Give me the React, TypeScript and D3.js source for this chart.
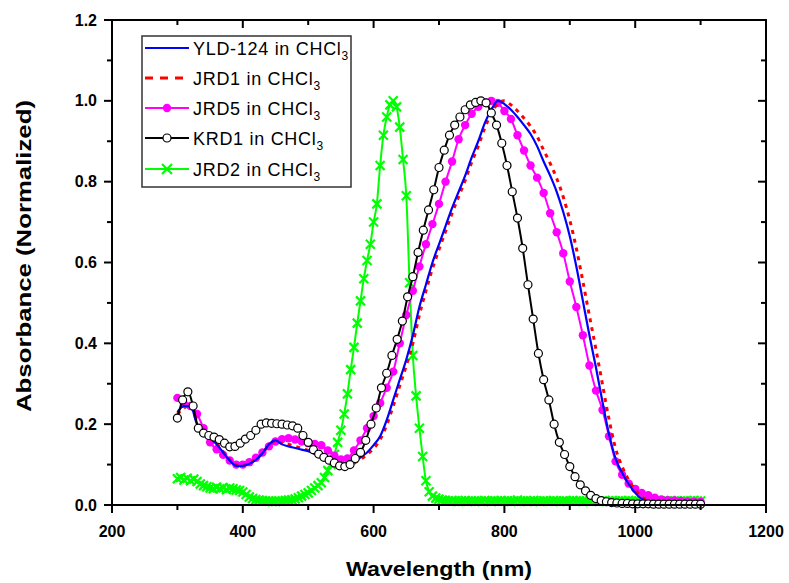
import React from 'react';
import * as d3 from 'd3';

const xMajorTicks = [200, 400, 600, 800, 1000, 1200];
const xMinorTicks = [300, 500, 700, 900, 1100];
const yMajorTicks = [0, 0.2, 0.4, 0.6, 0.8, 1.0, 1.2];
const yMinorTicks = [0.1, 0.3, 0.5, 0.7, 0.9, 1.1];

const legendNames = ['YLD-124 in CHCl', 'JRD1 in CHCl', 'JRD5 in CHCl', 'KRD1 in CHCl', 'JRD2 in CHCl'];

// wavelength grids (nm)
const wl10 = d3.range(300, 1101, 10);
const wl8 = d3.range(300, 1101, 8);
const wl5 = d3.range(300, 1101, 5);

const yld124 = [
  0.230, 0.245, 0.245, 0.200, 0.178, 0.165, 0.150, 0.130, 0.110, 0.097,
  0.097, 0.102, 0.112, 0.128, 0.150, 0.160, 0.150, 0.145, 0.141, 0.137,
  0.133, 0.126, 0.118, 0.107, 0.099, 0.095, 0.097, 0.106, 0.118, 0.130,
  0.148, 0.170, 0.210, 0.260, 0.310, 0.360, 0.420, 0.490, 0.545, 0.600,
  0.645, 0.690, 0.735, 0.775, 0.815, 0.860, 0.900, 0.945, 0.978, 1.000,
  0.992, 0.978, 0.960, 0.940, 0.918, 0.888, 0.850, 0.815, 0.775, 0.725,
  0.665, 0.590, 0.505, 0.420, 0.340, 0.255, 0.175, 0.115, 0.080, 0.052,
  0.030, 0.015, 0.010, 0.008, 0.006, 0.005, 0.004, 0.004, 0.003, 0.003,
  0.003,
];

const jrd1 = [
  0.225, 0.240, 0.245, 0.205, 0.180, 0.165, 0.152, 0.132, 0.112, 0.099,
  0.098, 0.103, 0.113, 0.128, 0.148, 0.158, 0.152, 0.150, 0.145, 0.140,
  0.135, 0.128, 0.120, 0.110, 0.100, 0.095, 0.096, 0.103, 0.113, 0.125,
  0.140, 0.162, 0.198, 0.245, 0.295, 0.345, 0.400, 0.470, 0.530, 0.585,
  0.632, 0.677, 0.722, 0.763, 0.803, 0.848, 0.888, 0.933, 0.968, 0.993,
  1.000, 0.990, 0.975, 0.957, 0.937, 0.912, 0.878, 0.845, 0.808, 0.762,
  0.705, 0.635, 0.553, 0.468, 0.385, 0.298, 0.212, 0.140, 0.095, 0.062,
  0.037, 0.020, 0.012, 0.009, 0.007, 0.006, 0.005, 0.005, 0.004, 0.004,
  0.004,
];

const jrd5 = [
  0.265, 0.250, 0.245, 0.225, 0.190, 0.155, 0.138, 0.124, 0.110, 0.100,
  0.100, 0.106, 0.117, 0.130, 0.145, 0.157, 0.163, 0.165, 0.162, 0.157,
  0.153, 0.151, 0.148, 0.135, 0.122, 0.113, 0.115, 0.135, 0.160, 0.190,
  0.220, 0.252, 0.290, 0.330, 0.400, 0.470, 0.530, 0.590, 0.645, 0.695,
  0.745, 0.800, 0.850, 0.905, 0.940, 0.968, 0.985, 0.996, 1.000, 0.995,
  0.975, 0.955, 0.915, 0.877, 0.840, 0.810, 0.772, 0.722, 0.675, 0.623,
  0.553, 0.490, 0.420, 0.345, 0.283, 0.235, 0.170, 0.108, 0.075, 0.053,
  0.040, 0.030, 0.024, 0.018, 0.014, 0.012, 0.011, 0.010, 0.009, 0.008,
  0.008,
];

const krd1 = [
  0.215, 0.260, 0.280, 0.245, 0.190, 0.178, 0.172, 0.168, 0.162, 0.153,
  0.144, 0.145, 0.153, 0.163, 0.172, 0.185, 0.200, 0.203, 0.202, 0.201,
  0.200, 0.198, 0.196, 0.190, 0.172, 0.155, 0.137, 0.126, 0.118, 0.111,
  0.104, 0.097, 0.095, 0.100, 0.115, 0.130, 0.160, 0.200, 0.240, 0.290,
  0.326, 0.370, 0.410, 0.455, 0.515, 0.565, 0.625, 0.680, 0.730, 0.780,
  0.835, 0.878, 0.915, 0.940, 0.960, 0.978, 0.990, 0.996, 1.000, 0.995,
  0.970, 0.940, 0.895, 0.840, 0.775, 0.710, 0.635, 0.545, 0.460, 0.375,
  0.310, 0.260, 0.200, 0.155, 0.125, 0.095, 0.070, 0.050, 0.035, 0.024,
  0.016, 0.011, 0.008, 0.006, 0.005, 0.004, 0.004, 0.003, 0.003, 0.003,
  0.003, 0.002, 0.002, 0.002, 0.002, 0.002, 0.002, 0.002, 0.002, 0.002,
  0.002,
];

const jrd2 = [
  0.065, 0.068, 0.062, 0.066, 0.060, 0.064, 0.058, 0.052, 0.048, 0.045,
  0.042, 0.040, 0.044, 0.040, 0.043, 0.038, 0.042, 0.040, 0.037, 0.036,
  0.032, 0.026, 0.020, 0.016, 0.013, 0.012, 0.011, 0.010, 0.010, 0.009,
  0.009, 0.010, 0.010, 0.011, 0.012, 0.013, 0.015, 0.018, 0.022, 0.026,
  0.030, 0.036, 0.042, 0.048, 0.055, 0.068, 0.085, 0.100, 0.125, 0.155,
  0.185, 0.225, 0.275, 0.335, 0.390, 0.450, 0.505, 0.560, 0.605, 0.645,
  0.700, 0.745, 0.840, 0.915, 0.960, 0.990, 1.000, 0.985, 0.935, 0.855,
  0.765, 0.550, 0.370, 0.270, 0.190, 0.120, 0.060, 0.033, 0.022, 0.017,
  0.014, 0.012, 0.011, 0.010, 0.011, 0.010, 0.009, 0.010, 0.011, 0.010,
  0.010, 0.009, 0.010, 0.010, 0.011, 0.010, 0.009, 0.010, 0.010, 0.011,
  0.010, 0.010, 0.009, 0.010, 0.012, 0.010, 0.010, 0.009, 0.010, 0.011,
  0.010, 0.009, 0.010, 0.010, 0.010, 0.011, 0.010, 0.009, 0.010, 0.010,
  0.010, 0.011, 0.010, 0.010, 0.009, 0.010, 0.010, 0.011, 0.010, 0.009,
  0.010, 0.010, 0.010, 0.011, 0.010, 0.009, 0.010, 0.010, 0.011, 0.010,
  0.010, 0.009, 0.010, 0.010, 0.010, 0.011, 0.010, 0.010, 0.009, 0.010,
  0.010, 0.011, 0.010, 0.010, 0.009, 0.010, 0.010, 0.010, 0.011, 0.010,
  0.010,
];

const W = 789;
const H = 583;
const left = 112, right = 766, top = 20, bottom = 505;
const FONT = 'Liberation Sans, Arial, Helvetica, sans-serif';

function zip(xs: number[], ys: number[]) {
  const n = Math.min(xs.length, ys.length);
  const out: [number, number][] = [];
  for (let i = 0; i < n; i++) out.push([xs[i], ys[i]]);
  return out;
}

export default function App() {
  const x = d3.scaleLinear().domain([200, 1200]).range([left, right]);
  const y = d3.scaleLinear().domain([0, 1.2]).range([bottom, top]);
  const line = d3
    .line<[number, number]>()
    .x((d) => x(d[0]))
    .y((d) => y(d[1]))
    .curve(d3.curveMonotoneX);

  const blue = zip(wl10, yld124);
  const red = zip(wl10, jrd1);
  const mag = zip(wl10, jrd5);
  const blk = zip(wl8, krd1);
  const grn = zip(wl5, jrd2);

  const cross = (cx: number, cy: number, s: number, key: string) => (
    <path key={key} d={`M${cx - s},${cy - s}L${cx + s},${cy + s}M${cx - s},${cy + s}L${cx + s},${cy - s}`} stroke="#00ff00" strokeWidth={2.2} fill="none" />
  );

  const legendY = [48, 78, 108, 138, 169];

  return (
    <svg width={W} height={H} style={{ position: 'absolute', left: 0, top: 0, background: '#fff' }} fontFamily={FONT}>
      <rect x={0} y={0} width={W} height={H} fill="#fff" />

      {/* series */}
      <g>
        <path d={line(grn) || ''} fill="none" stroke="#00ff00" strokeWidth={2} />
        {grn.map((d, i) => cross(x(d[0]), y(d[1]), 4.5, 'g' + i))}
      </g>
      <g>
        <path d={line(mag) || ''} fill="none" stroke="#ff00ff" strokeWidth={2} />
        {mag.map((d, i) => (
          <circle key={'m' + i} cx={x(d[0])} cy={y(d[1])} r={4.2} fill="#ff00ff" />
        ))}
      </g>
      <path d={line(red) || ''} fill="none" stroke="#ff0000" strokeWidth={3} strokeDasharray="4,5" />
      <path d={line(blue) || ''} fill="none" stroke="#0000ff" strokeWidth={2.2} />
      <g>
        <path d={line(blk) || ''} fill="none" stroke="#000" strokeWidth={2} />
        {blk.map((d, i) => (
          <circle key={'k' + i} cx={x(d[0])} cy={y(d[1])} r={4} fill="#fff" stroke="#000" strokeWidth={1.2} />
        ))}
      </g>

      {/* frame */}
      <rect x={left} y={top} width={right - left} height={bottom - top} fill="none" stroke="#000" strokeWidth={2} />

      {/* bottom axis ticks (outward) and top ticks (inward) */}
      {xMajorTicks.map((t) => (
        <g key={'xM' + t}>
          <line x1={x(t)} x2={x(t)} y1={bottom} y2={bottom + 8} stroke="#000" strokeWidth={2} />
          <line x1={x(t)} x2={x(t)} y1={top} y2={top + 8} stroke="#000" strokeWidth={2} />
          <text x={x(t)} y={537} textAnchor="middle" fontSize={16} fontWeight="bold" fill="#000">
            {t}
          </text>
        </g>
      ))}
      {xMinorTicks.map((t) => (
        <g key={'xm' + t}>
          <line x1={x(t)} x2={x(t)} y1={bottom} y2={bottom + 5} stroke="#000" strokeWidth={2} />
          <line x1={x(t)} x2={x(t)} y1={top} y2={top + 5} stroke="#000" strokeWidth={2} />
        </g>
      ))}
      {yMajorTicks.map((t) => (
        <g key={'yM' + t}>
          <line x1={left - 8} x2={left} y1={y(t)} y2={y(t)} stroke="#000" strokeWidth={2} />
          <line x1={right - 8} x2={right} y1={y(t)} y2={y(t)} stroke="#000" strokeWidth={2} />
          <text x={97} y={y(t) + 5.5} textAnchor="end" fontSize={16} fontWeight="bold" fill="#000">
            {t.toFixed(1)}
          </text>
        </g>
      ))}
      {yMinorTicks.map((t) => (
        <g key={'ym' + t}>
          <line x1={left - 5} x2={left} y1={y(t)} y2={y(t)} stroke="#000" strokeWidth={2} />
          <line x1={right - 5} x2={right} y1={y(t)} y2={y(t)} stroke="#000" strokeWidth={2} />
        </g>
      ))}

      {/* axis titles */}
      <text x={439} y={576} textAnchor="middle" fontSize={21} fontWeight="bold" textLength={186} lengthAdjust="spacingAndGlyphs" fill="#000">
        Wavelength (nm)
      </text>
      <text
        transform={`translate(31,256) rotate(-90)`}
        textAnchor="middle"
        fontSize={21}
        fontWeight="bold"
        textLength={312}
        lengthAdjust="spacingAndGlyphs"
        fill="#000"
      >
        Absorbance (Normalized)
      </text>

      {/* legend */}
      <rect x={142} y={36} width={209} height={151} fill="#fff" stroke="#333" strokeWidth={1.5} />
      {legendNames.map((name, i) => {
        const ly = legendY[i];
        const x1 = 145, x2 = 189, cx = 167;
        let sample: React.ReactNode = null;
        if (i === 0) sample = <line x1={x1} x2={x2} y1={ly} y2={ly} stroke="#0000ff" strokeWidth={2.2} />;
        if (i === 1) sample = <line x1={x1} x2={x2} y1={ly} y2={ly} stroke="#ff0000" strokeWidth={3} strokeDasharray="8,7" />;
        if (i === 2)
          sample = (
            <g>
              <line x1={x1} x2={x2} y1={ly} y2={ly} stroke="#ff00ff" strokeWidth={2} />
              <circle cx={cx} cy={ly} r={4.2} fill="#ff00ff" />
            </g>
          );
        if (i === 3)
          sample = (
            <g>
              <line x1={x1} x2={x2} y1={ly} y2={ly} stroke="#000" strokeWidth={2} />
              <circle cx={cx} cy={ly} r={4} fill="#fff" stroke="#000" strokeWidth={1.2} />
            </g>
          );
        if (i === 4)
          sample = (
            <g>
              <line x1={x1} x2={x2} y1={ly} y2={ly} stroke="#00ff00" strokeWidth={2} />
              {cross(cx, ly, 5, 'lg')}
            </g>
          );
        return (
          <g key={'lg' + i}>
            {sample}
            <text x={193} y={ly + 6.5} fontSize={18} letterSpacing={0.7} fill="#000">
              {name}
              <tspan fontSize={12} dy={5}>3</tspan>
            </text>
          </g>
        );
      })}
    </svg>
  );
}
